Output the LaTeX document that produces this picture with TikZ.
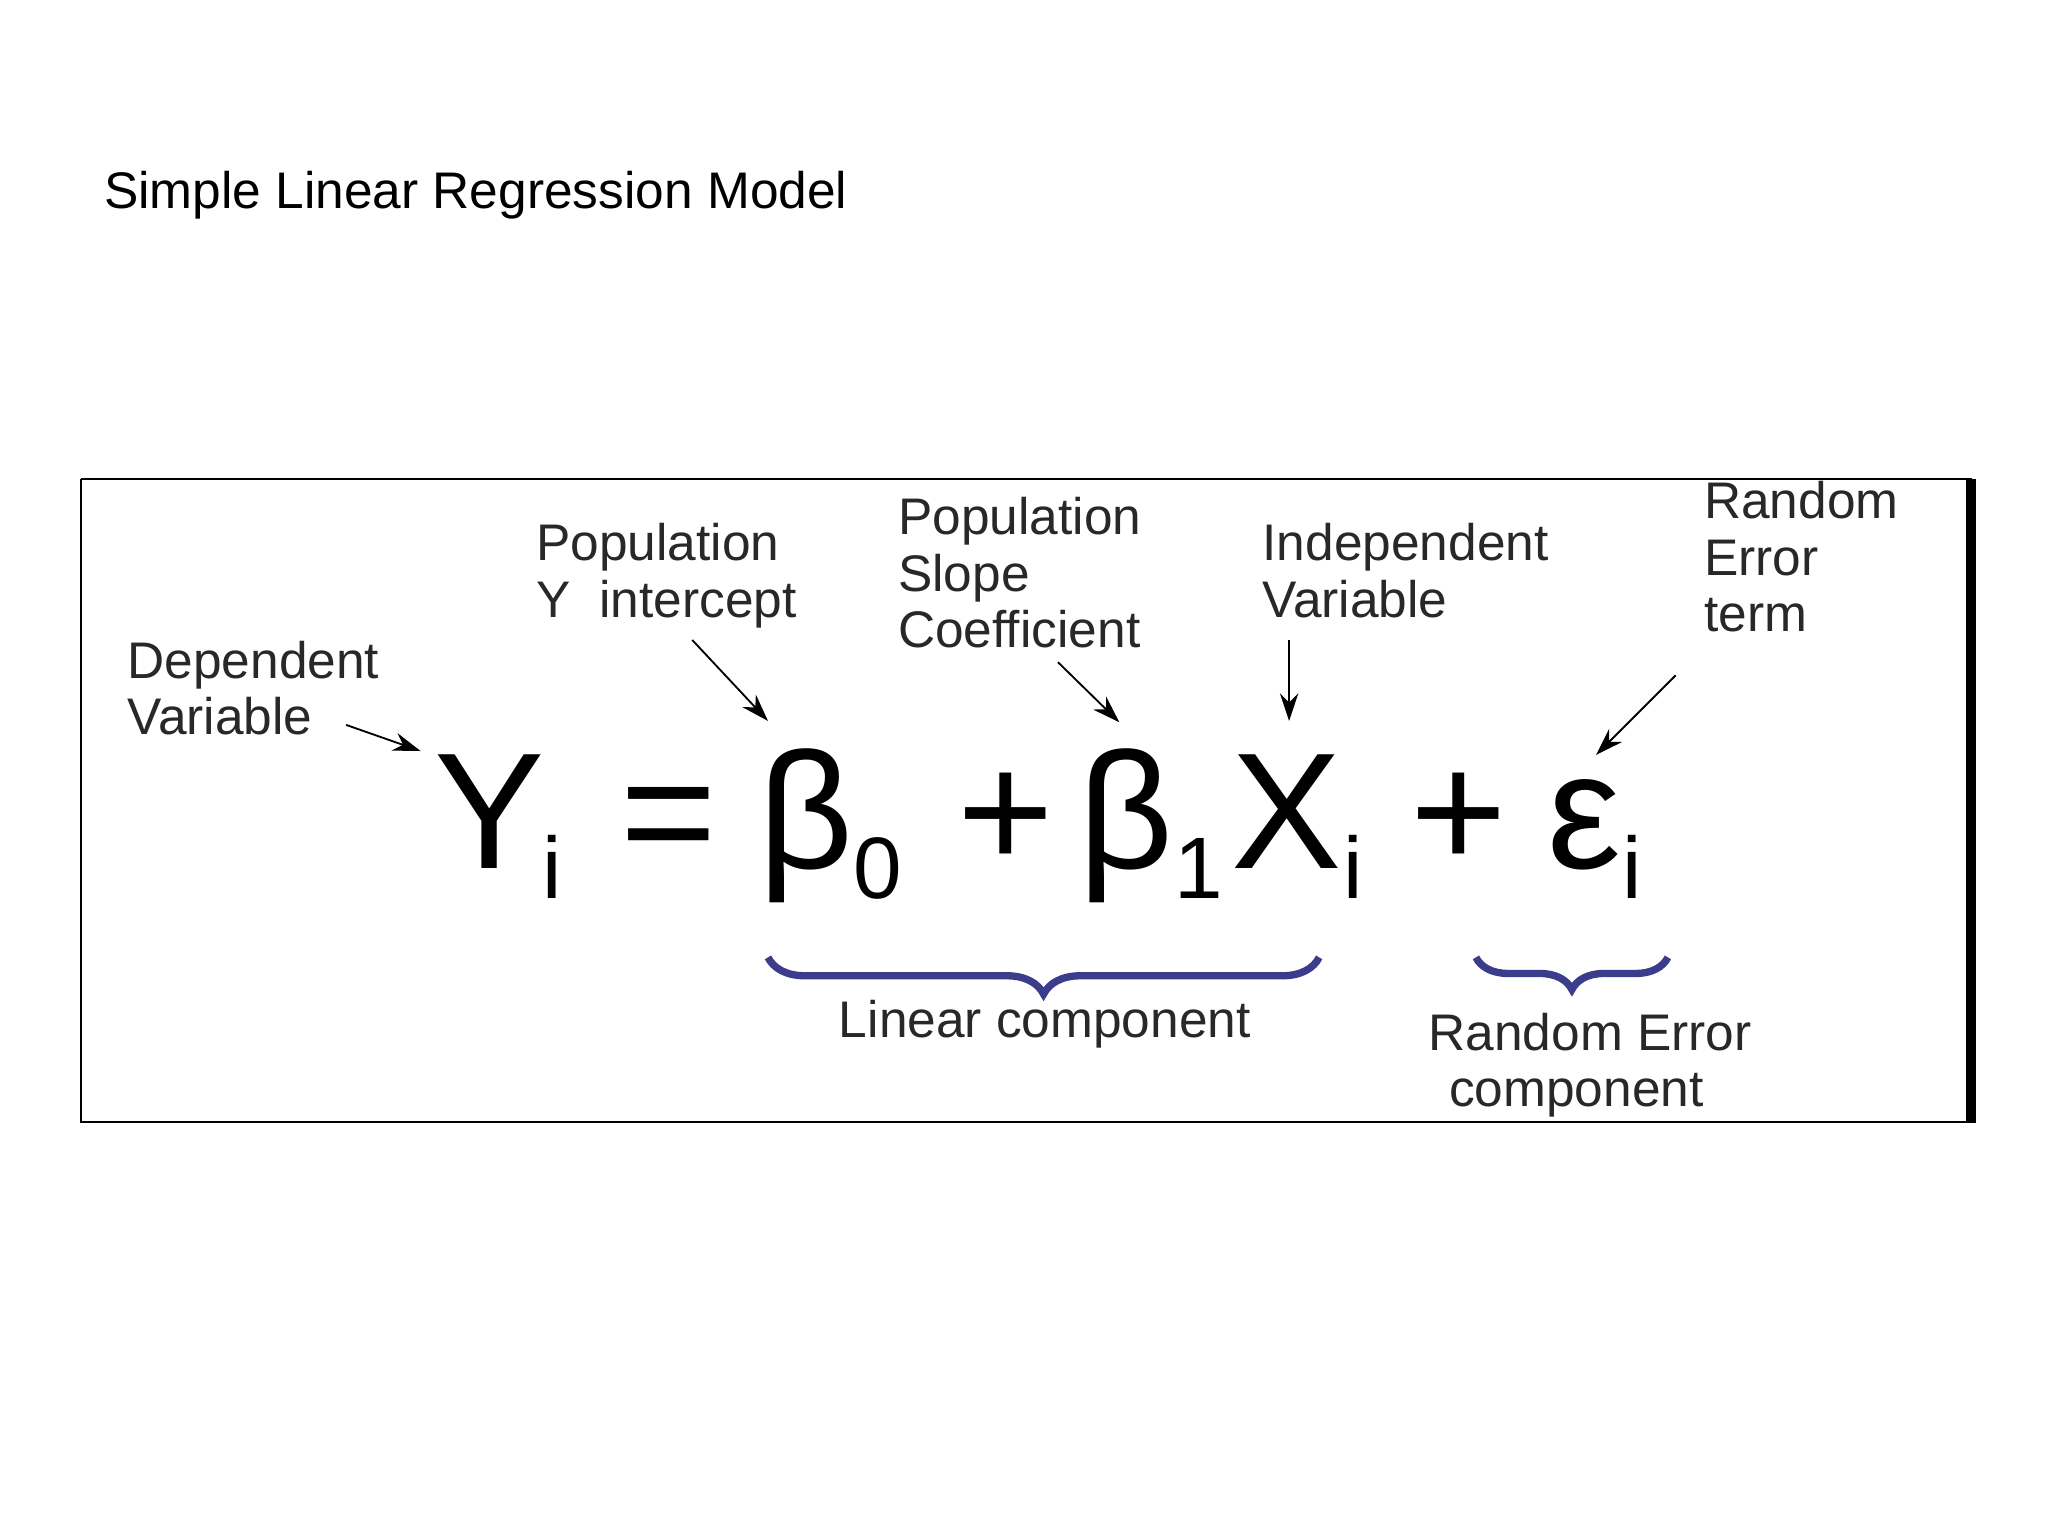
\documentclass[tikz,border=0pt]{standalone}
\usepackage{fontspec}
\setmainfont{Liberation Sans}
\usetikzlibrary{decorations.pathreplacing,arrows.meta}
\definecolor{brc}{RGB}{60,60,140}
\definecolor{lab}{RGB}{40,40,40}
\begin{document}
\begin{tikzpicture}[x=0.01cm,y=-0.01cm,
  lbl/.style={anchor=north west,inner sep=0,align=left,text=lab,font=\fontsize{11.2}{12.3}\selectfont},
  big/.style={inner sep=0,font=\fontsize{36}{36}\selectfont,anchor=base},
  sub/.style={inner sep=0,font=\fontsize{19}{19}\selectfont,anchor=base},
  arr/.style={-{Stealth[length=6pt,width=4pt]},thin},
  br/.style={decorate,decoration={brace,amplitude=8pt,mirror},draw=brc,line width=1.6pt}]
\useasboundingbox (0,0) rectangle (1568,1176);
\node[anchor=base west,inner sep=0,font=\fontsize{11.2}{12}\selectfont] (title) at (79,160) {Simple Linear Regression Model};
\draw (62,367) -- (1510,367) (62,367) -- (62,859) -- (1510,859);
\draw[line width=2pt] (1509,367) -- (1509,860);
% equation
\node[big] (Y) at (375,665) {Y};
\node[sub] (Yi) at (423,688) {i};
\node[big] (eq) at (512,665) {=};
\node[big] (b0) at (617,665) {β};
\node[sub] (b0s) at (672,688) {0};
\node[big] (p1) at (770,665) {+};
\node[big] (b1) at (862,665) {β};
\node[sub] (b1s) at (918,688) {1};
\node[big] (X) at (985,665) {X};
\node[sub] (Xi) at (1036,688) {i};
\node[big] (p2) at (1117,665) {+};
\node[big] (e) at (1213,665) {ε};
\node[sub] (ei) at (1250,688) {i};
% labels
\node[lbl] (dep) at (97,490) {Dependent\\Variable};
\node[lbl] (int) at (410,400) {Population\\Y\ \ intercept};
\node[lbl] (slo) at (687,380) {Population\\Slope\\Coefficient};
\node[lbl] (ind) at (966,400) {Independent\\Variable};
\node[lbl] (err) at (1304,368) {Random\\Error\\term};
\coordinate (a1) at (265,555); \coordinate (a1e) at (322,575);
\coordinate (a2) at (530,490); \coordinate (a2e) at (588,552);
\coordinate (a3) at (810,507); \coordinate (a3e) at (857,553);
\coordinate (a4) at (987,490); \coordinate (a4e) at (987,552);
\coordinate (a5) at (1283,517); \coordinate (a5e) at (1222,578);
\draw[arr] (a1) -- (a1e);
\draw[arr] (a2) -- (a2e);
\draw[arr] (a3) -- (a3e);
\draw[arr] (a4) -- (a4e);
\draw[arr] (a5) -- (a5e);
% braces
\coordinate (l1) at (588,733); \coordinate (l2) at (1010,733);
\coordinate (r1) at (1130,733); \coordinate (r2) at (1277,733);
\draw[br] (l1) -- (l2);
\draw[br,decoration={amplitude=7pt}] (r1) -- (r2);
\node[lbl,anchor=center,align=center] (lin) at (800,784) {Linear component};
\node[lbl] (rec) at (1093,775) {Random Error\\\hspace*{0.4em}component};
\end{tikzpicture}
\end{document}
